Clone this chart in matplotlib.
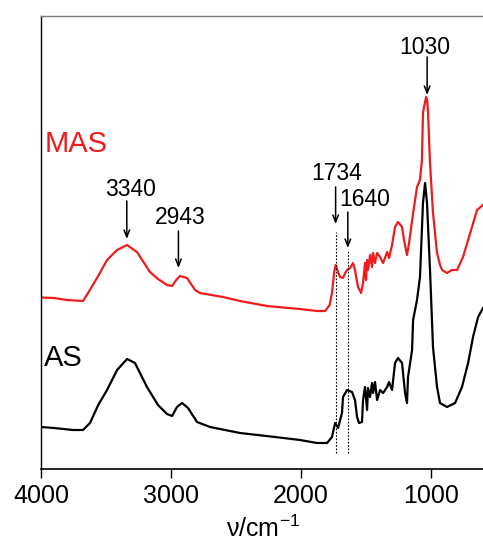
import matplotlib
matplotlib.use("Agg")
import matplotlib.pyplot as plt

plt.rcParams['font.family'] = ['Liberation Sans', 'DejaVu Sans']
plt.rcParams['mathtext.fontset'] = 'custom'
plt.rcParams['mathtext.rm'] = 'Liberation Sans'
plt.rcParams['mathtext.it'] = 'Liberation Sans'

# ---- data (arbitrary absorbance units, offset spectra) ----
mas_wn = [4000, 3900, 3800, 3677, 3638, 3560, 3492, 3415, 3338, 3262, 3162, 3100,
          3031, 2992, 2960, 2931, 2877, 2815, 2777, 2600, 2469, 2262, 2008, 1877,
          1815, 1780, 1762, 1745, 1734, 1715, 1700, 1677, 1660, 1646, 1623, 1600,
          1585, 1562, 1538, 1523, 1508, 1500, 1492, 1485, 1469, 1454, 1446, 1431,
          1415, 1392, 1369, 1338, 1323, 1300, 1277, 1254, 1223, 1208, 1185, 1169,
          1138, 1108, 1085, 1070, 1062, 1054, 1038, 1030, 1023, 1008, 985, 954, 931,
          915, 877, 840, 800, 754, 715, 685, 646, 600]
mas_abs = [1.715, 1.71, 1.69, 1.68, 1.76, 1.93, 2.09, 2.19, 2.24, 2.17, 1.97, 1.90,
           1.84, 1.83, 1.89, 1.93, 1.91, 1.79, 1.76, 1.72, 1.68, 1.63, 1.60, 1.58,
           1.58, 1.64, 1.76, 1.97, 2.04, 1.97, 1.92, 1.91, 1.96, 1.99, 2.01, 2.06,
           1.99, 1.82, 1.76, 1.86, 2.06, 1.89, 2.09, 1.99, 2.14, 2.02, 2.16, 2.06,
           2.16, 2.12, 2.06, 2.17, 2.11, 2.24, 2.42, 2.47, 2.42, 2.29, 2.14, 2.26,
           2.56, 2.82, 2.89, 3.09, 3.56, 3.62, 3.72, 3.69, 3.56, 3.06, 2.56, 2.16, 2.04,
           1.99, 1.96, 1.99, 1.99, 2.12, 2.29, 2.42, 2.59, 2.64]

as_wn = [4000, 3900, 3754, 3677, 3623, 3560, 3492, 3415, 3338, 3277, 3185, 3100,
         3031, 2992, 2954, 2915, 2869, 2800, 2700, 2469, 2200, 2008, 1877, 1800,
         1762, 1738, 1715, 1685, 1677, 1646, 1608, 1585, 1569, 1554, 1531, 1523,
         1508, 1492, 1485, 1469, 1454, 1446, 1431, 1415, 1392, 1369, 1338, 1323,
         1300, 1277, 1254, 1223, 1200, 1185, 1177, 1146, 1138, 1108, 1085, 1062,
         1046, 1031, 1008, 985, 954, 931, 877, 815, 762, 715, 677, 638, 600]
as_abs = [0.42, 0.41, 0.39, 0.39, 0.46, 0.64, 0.79, 0.99, 1.10, 1.06, 0.82, 0.64,
          0.55, 0.53, 0.62, 0.66, 0.61, 0.47, 0.42, 0.36, 0.32, 0.29, 0.26, 0.26,
          0.32, 0.46, 0.41, 0.56, 0.72, 0.79, 0.77, 0.69, 0.52, 0.46, 0.47, 0.69,
          0.82, 0.59, 0.81, 0.72, 0.86, 0.76, 0.87, 0.69, 0.79, 0.76, 0.82, 0.87,
          0.79, 1.06, 1.11, 1.06, 0.76, 0.66, 0.92, 1.19, 1.49, 1.69, 1.92, 2.66,
          2.86, 2.66, 1.99, 1.22, 0.82, 0.66, 0.62, 0.66, 0.82, 1.06, 1.32, 1.52, 1.61]

peak_wn = [3340, 2943, 1734, 1640, 1030]
peak_labels = ['3340', '2943', '1734', '1640', '1030']
xticks = [4000, 3000, 2000, 1000]
xtick_labels = ['4000', '3000', '2000', '1000']
series_names = ['MAS', 'AS']

RED = '#ee1c1c'

fig = plt.figure(figsize=(4.83, 5.52), dpi=100)
ax = fig.add_axes([41 / 483, 83 / 552, 444 / 483, 453 / 552])

ax.plot(mas_wn, mas_abs, color=RED, lw=1.6)
ax.plot(as_wn, as_abs, color='black', lw=1.6)

ax.set_xlim(4000, 585)
ax.set_ylim(0, 4.53)

ax.set_xticks(xticks)
ax.set_xticklabels(xtick_labels, fontsize=18)
ax.set_yticks([])
ax.tick_params(axis='x', direction='out', length=6.5, width=1, pad=4)

ax.spines['right'].set_visible(False)
ax.spines['top'].set_color('#7a7a7a')
ax.spines['top'].set_linewidth(1.0)
ax.spines['left'].set_linewidth(1.0)
ax.spines['bottom'].set_linewidth(1.2)

ax.set_xlabel('ν/cm$^{-1}$', fontsize=18, labelpad=6)

# series labels
ax.text(3969, 3.25, series_names[0], color=RED, fontsize=21, ha='left', va='center')
ax.text(3975, 1.11, series_names[1], color='black', fontsize=21, ha='left', va='center')

# peak annotations: (label x, label y, arrow top, arrow tip)
label_pos = {'3340': (3315, 2.80, 2.68, 2.30),
             '2943': (2931, 2.51, 2.38, 2.01),
             '1734': (1723, 2.95, 2.82, 2.45),
             '1640': (1508, 2.70, 2.57, 2.21),
             '1030': (1046, 4.22, 4.12, 3.74)}
for wn, lab in zip(peak_wn, peak_labels):
    tx, ty, a0, a1 = label_pos[lab]
    ax.text(tx, ty, lab, fontsize=16.5, ha='center', va='center')
    ax.annotate('', xy=(wn, a1), xytext=(wn, a0),
                arrowprops=dict(arrowstyle='->,head_length=0.5,head_width=0.2',
                                color='black', lw=1.1, shrinkA=0, shrinkB=0))

# dotted guide lines
ax.plot([peak_wn[2], peak_wn[2]], [0.16, 2.37], color='black', lw=0.8, ls=(0, (1.5, 1.5)))
ax.plot([peak_wn[3], peak_wn[3]], [0.16, 2.19], color='black', lw=0.8, ls=(0, (1.5, 1.5)))

fig.savefig('out.png', dpi=100)
